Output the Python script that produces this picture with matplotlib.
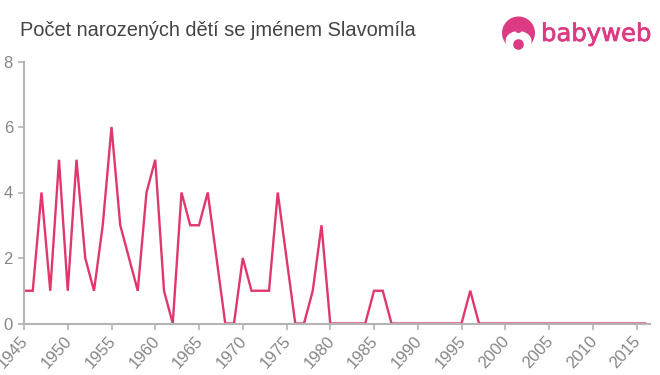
import numpy as np
import matplotlib.pyplot as plt
import matplotlib.patheffects as pe
from matplotlib.patches import Circle, Ellipse
from matplotlib.transforms import ScaledTranslation

plt.rcParams['font.family'] = ['Liberation Sans', 'DejaVu Sans']

#%% Data
years = list(range(1945, 2017))
counts = [1, 1, 4, 1, 5, 1, 5, 2, 1, 3,
          6, 3, 2, 1, 4, 5, 1, 0, 4, 3,
          3, 4, 2, 0, 0, 2, 1, 1, 1, 4,
          2, 0, 0, 1, 3, 0, 0, 0, 0, 0,
          1, 1, 0, 0, 0, 0, 0, 0, 0, 0,
          0, 1, 0, 0, 0, 0, 0, 0, 0, 0,
          0, 0, 0, 0, 0, 0, 0, 0, 0, 0,
          0, 0]
xticks = list(range(1945, 2016, 5))
yticks = [0, 2, 4, 6, 8]
title = 'Počet narozených dětí se jménem Slavomíla'

W, H = 660, 375
axis_grey = '#b4b4b4'
text_grey = '#868686'
logo_pink = '#dc3a82'

#%% Chart
fig = plt.figure(figsize=[W/100, H/100], dpi=100)
ax = fig.add_axes([24/W, 1-323.5/H, (650-24)/W, (323.5-61.5)/H])
ax.plot(years, counts, color='#e0386c', lw=1.7, solid_joinstyle='miter')
ax.set_xlim(1945, 1945+(650-24)/8.75)
ax.set_ylim(0, 8)
ax.set_xticks(xticks)
ax.set_yticks(yticks)
ax.set_xticklabels(xticks, rotation=48, ha='right', rotation_mode='anchor')
ax.tick_params(axis='both', color=axis_grey, labelcolor=text_grey, labelsize=12, length=4, width=1.2, pad=4)
shift = ScaledTranslation(-4/100, 1/100, fig.dpi_scale_trans)
for lab in ax.get_xticklabels():
    lab.set_transform(lab.get_transform() + shift)
ax.spines['top'].set_visible(False)
ax.spines['right'].set_visible(False)
ax.spines['left'].set_color(axis_grey)
ax.spines['bottom'].set_color(axis_grey)
ax.spines['left'].set_linewidth(1.5)
ax.spines['bottom'].set_linewidth(1.5)

fig.text(20/W, 1-30/H, title, fontsize=14.4, color='#444444', va='center', ha='left')

#%% Logo
logo = fig.add_axes([0, 0, 1, 1], facecolor='none')
logo.set_xlim(0, W)
logo.set_ylim(H, 0)
logo.axis('off')
logo.add_patch(Circle((518.5, 33), 16.5, color=logo_pink, lw=0))
logo.add_patch(Ellipse((518.5, 41), 26, 20, color='white', lw=0))
logo.add_patch(Circle((518.5, 29.5), 3.5, color=logo_pink, lw=0))
logo.add_patch(Circle((518.5, 44.5), 5.3, color=logo_pink, lw=0))
logo.text(541, 41, 'babyweb', fontsize=17.5, color=logo_pink, va='baseline', ha='left',
          family='DejaVu Sans', path_effects=[pe.withStroke(linewidth=0.5, foreground=logo_pink)])

plt.savefig('out.png', dpi=100)
